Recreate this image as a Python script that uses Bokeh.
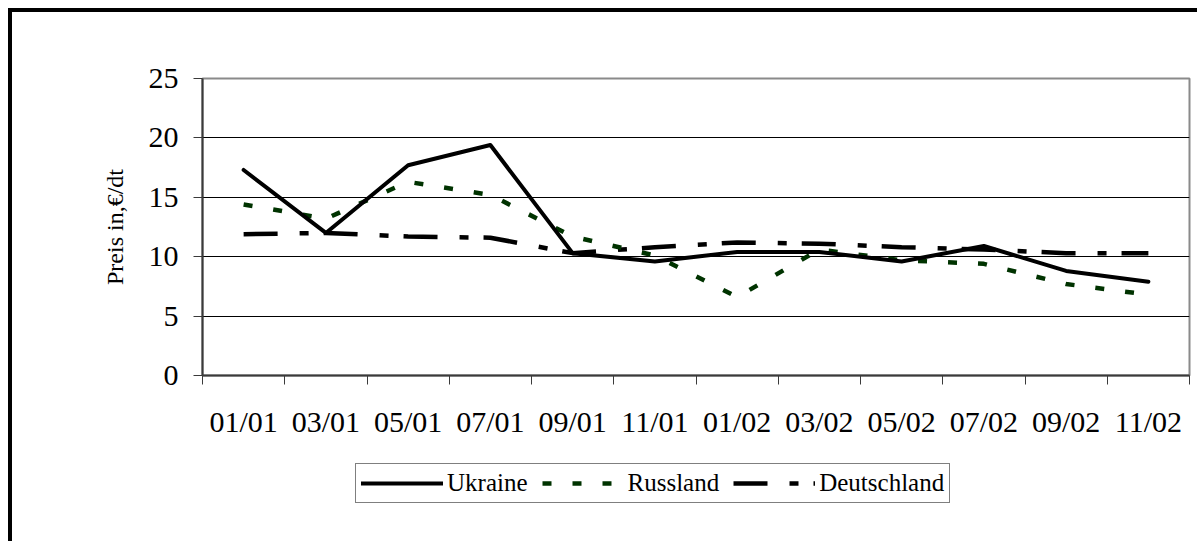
from bokeh.plotting import figure
from bokeh.layouts import column
from bokeh.models import (Range1d, FixedTicker, Legend, LegendItem, ColumnDataSource)
from bokeh.embed import file_html
from bokeh.resources import INLINE

# ---- data ----
months = ["01/01", "03/01", "05/01", "07/01", "09/01", "11/01",
          "01/02", "03/02", "05/02", "07/02", "09/02", "11/02"]
ukraine = [17.3, 12.0, 17.7, 19.4, 10.3, 9.6, 10.4, 10.4, 9.6, 10.9, 8.8, 7.9]
russland = [14.4, 13.2, 16.3, 15.2, 11.7, 10.1, 6.6, 10.6, 9.7, 9.4, 7.7, 6.8]
deutschland = [11.9, 12.0, 11.7, 11.6, 10.3, 10.8, 11.2, 11.1, 10.8, 10.6, 10.3, 10.3]
y_ticks = [0, 5, 10, 15, 20, 25]
grid_vals = [5, 10, 15, 20]
series_names = ["Ukraine", "Russland", "Deutschland"]
series_cols = {"Ukraine": "u", "Russland": "r", "Deutschland": "d"}

FONT = "Liberation Serif"

# category slots: each month occupies one unit, centred at i + 0.5
n = len(months)
centers = [i + 0.5 for i in range(n)]
bounds = list(range(n + 1))

src = ColumnDataSource(dict(x=centers, m=months, u=ukraine, r=russland, d=deutschland))

STYLES = {
    "Ukraine": dict(line_color="black", line_width=4, line_cap="round", line_join="round"),
    "Russland": dict(line_color="#003300", line_width=4.5, line_dash="9 21"),
    "Deutschland": dict(line_color="black", line_width=4.5, line_dash="34 22 9 15"),
}

p = figure(width=1185, height=440, output_backend="svg", toolbar_location=None,
           x_range=Range1d(0, n), y_range=Range1d(0, 25),
           min_border_left=190, min_border_right=8, min_border_top=66, min_border_bottom=77)
p.background_fill_color = "white"
p.border_fill_color = "white"
p.outline_line_color = "#8a8a8a"
p.outline_line_width = 2

# y axis
ya = p.yaxis[0]
ya.ticker = FixedTicker(ticks=y_ticks)
ya.major_tick_out = 9
ya.major_tick_in = 0
ya.minor_tick_line_color = None
ya.axis_line_color = "#3a3a3a"
ya.axis_line_width = 2
ya.major_tick_line_color = "#3a3a3a"
ya.major_label_text_font = FONT
ya.major_label_text_font_size = "30px"
ya.major_label_text_color = "black"
ya.major_label_standoff = 15
ya.axis_label = "Preis in,€/dt"
ya.axis_label_text_font = FONT
ya.axis_label_text_font_size = "24px"
ya.axis_label_text_font_style = "normal"
ya.axis_label_text_color = "black"
ya.axis_label_standoff = 18

# x axis: labels at slot centres, tick marks at slot boundaries
xa = p.xaxis[0]
xa.ticker = FixedTicker(ticks=centers, minor_ticks=bounds)
xa.major_label_overrides = {c: m for c, m in zip(centers, months)}
xa.major_tick_line_color = None
xa.major_tick_out = 9
xa.major_tick_in = 0
xa.minor_tick_line_color = "#3a3a3a"
xa.minor_tick_out = 9
xa.minor_tick_in = 0
xa.axis_line_color = "#3a3a3a"
xa.axis_line_width = 2
xa.major_label_text_font = FONT
xa.major_label_text_font_size = "30px"
xa.major_label_text_color = "black"
xa.major_label_standoff = 20

p.ygrid.ticker = FixedTicker(ticks=grid_vals)
p.ygrid.grid_line_color = "black"
p.ygrid.grid_line_width = 1
p.xgrid.grid_line_color = None

# data lines
p.line("x", "d", source=src, **STYLES["Deutschland"])
p.line("x", "r", source=src, **STYLES["Russland"])
p.line("x", "u", source=src, **STYLES["Ukraine"])

# legend strip below the chart: same series, plotted outside its visible range,
# so only the legend samples show
lf = figure(width=1185, height=89, output_backend="svg", toolbar_location=None,
            x_range=Range1d(0, n), y_range=Range1d(-2, -1),
            x_axis_location=None, y_axis_location=None, min_border=0)
lf.outline_line_color = None
lf.background_fill_color = "white"
lf.border_fill_color = "white"
lf.grid.grid_line_color = None
items = []
for name in series_names:
    r = lf.line("x", series_cols[name], source=src, **STYLES[name])
    items.append(LegendItem(label=name, renderers=[r]))

legend = Legend(items=items, orientation="horizontal", location=(153, 38),
                label_text_font=FONT, label_text_font_size="25px", label_text_color="black",
                glyph_width=82, glyph_height=20, label_standoff=4, spacing=14,
                padding=5, margin=0, border_line_color="black", border_line_width=1,
                background_fill_color="white", background_fill_alpha=1)
lf.add_layout(legend, "center")

layout = column(p, lf, spacing=0,
                styles={"margin-top": "8px", "margin-left": "8px",
                        "border-top": "4px solid black", "border-left": "4px solid black"})

open("out.html", "w").write(file_html(layout, INLINE))
